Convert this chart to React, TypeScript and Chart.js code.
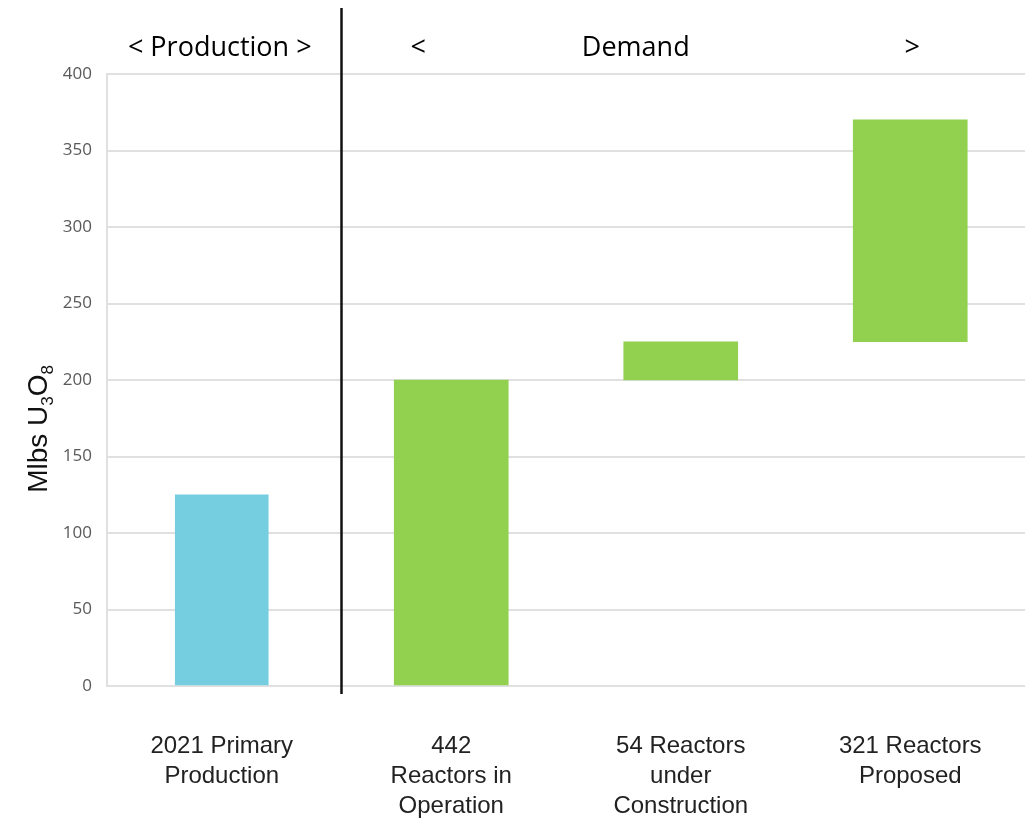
import React, { useEffect, useRef } from "react";
import { Chart, registerables } from "chart.js";

Chart.register(...registerables);

const categories: string[][] = [
  ["2021 Primary", "Production"],
  ["442", "Reactors in", "Operation"],
  ["54 Reactors", "under", "Construction"],
  ["321 Reactors", "Proposed"],
];
const productionValues: ([number, number] | null)[] = [[0, 125], null, null, null];
const demandValues: ([number, number] | null)[] = [null, [0, 200], [200, 225], [225, 370]];
const yTicksMax = 400;
const yStep = 50;
const headerProduction = "< Production >";
const headerDemand = ["<", "Demand", ">"];
const yTitleParts = [
  { t: "Mlbs U", sub: false },
  { t: "3", sub: true },
  { t: "O", sub: false },
  { t: "8", sub: true },
];

const overlayPlugin = {
  id: "overlay",
  afterDraw(chart: any) {
    const { ctx, chartArea, scales } = chart;
    const x = scales.x;
    const p0 = x.getPixelForValue(0);
    const p1 = x.getPixelForValue(1);
    const p2 = x.getPixelForValue(2);
    const p3 = x.getPixelForValue(3);
    ctx.save();
    // divider
    ctx.strokeStyle = "#111";
    ctx.lineWidth = 2.5;
    const dx = (p0 + p1) / 2 + 5;
    ctx.beginPath();
    ctx.moveTo(dx, 8);
    ctx.lineTo(dx, chartArea.bottom + 8);
    ctx.stroke();
    // headers
    ctx.fillStyle = "#000";
    ctx.font = "27px 'Open Sans'";
    ctx.textAlign = "center";
    ctx.textBaseline = "middle";
    const hy = 48;
    ctx.fillText(headerProduction, p0 - 2, hy);
    ctx.fillText(headerDemand[0], p1 - 33, hy);
    ctx.fillText(headerDemand[1], p2 - 45, hy);
    ctx.fillText(headerDemand[2], p3 + 2, hy);
    // y title
    const cx = chartArea.left - 70;
    const cy = chartArea.top + 0.58 * (chartArea.bottom - chartArea.top);
    ctx.translate(cx, cy);
    ctx.rotate(-Math.PI / 2);
    const mainFont = "28px 'Liberation Sans'";
    const subFont = "17px 'Liberation Sans'";
    let total = 0;
    for (const part of yTitleParts) {
      ctx.font = part.sub ? subFont : mainFont;
      total += ctx.measureText(part.t).width;
    }
    let xx = -total / 2;
    ctx.textAlign = "left";
    ctx.textBaseline = "alphabetic";
    ctx.fillStyle = "#111";
    for (const part of yTitleParts) {
      ctx.font = part.sub ? subFont : mainFont;
      ctx.fillText(part.t, xx, part.sub ? 16 : 10);
      xx += ctx.measureText(part.t).width;
    }
    ctx.restore();
  },
};

export default function App() {
  const ref = useRef<HTMLCanvasElement | null>(null);
  useEffect(() => {
    if (!ref.current) return;
    const chart = new Chart(ref.current, {
      type: "bar",
      data: {
        labels: categories,
        datasets: [
          {
            label: "Production",
            data: productionValues as any,
            backgroundColor: "#74CEE0",
            barThickness: 93,
            grouped: false,
          } as any,
          {
            label: "Demand",
            data: demandValues as any,
            backgroundColor: "#92D050",
            barThickness: 114,
            grouped: false,
          } as any,
        ],
      },
      options: {
        animation: false,
        responsive: true,
        maintainAspectRatio: false,
        layout: { padding: { top: 74, right: 7, left: 0, bottom: 0 } },
        plugins: { legend: { display: false }, tooltip: { enabled: false } },
        scales: {
          x: {
            grid: { display: false, drawTicks: false },
            border: { display: false },
            ticks: {
              padding: 45,
              color: "#222",
              font: { family: "'Liberation Sans'", size: 24, lineHeight: 1.25 },
              maxRotation: 0,
              autoSkip: false,
            },
            afterFit(scale: any) {
              scale.height = 133;
            },
          },
          y: {
            min: 0,
            max: yTicksMax,
            grid: { color: "#e0e0e0", lineWidth: 2, drawTicks: false },
            border: { display: true, color: "#e0e0e0", width: 2 },
            ticks: {
              stepSize: yStep,
              padding: 15,
              color: "#595959",
              font: { family: "'Open Sans'", size: 17 },
            },
            afterFit(scale: any) {
              scale.width = 107;
            },
          },
        },
      },
      plugins: [overlayPlugin],
    });
    return () => chart.destroy();
  }, []);
  return (
    <div style={{ position: "fixed", left: 0, top: 0, width: 1032, height: 819, background: "#fff" }}>
      <canvas ref={ref} />
    </div>
  );
}
